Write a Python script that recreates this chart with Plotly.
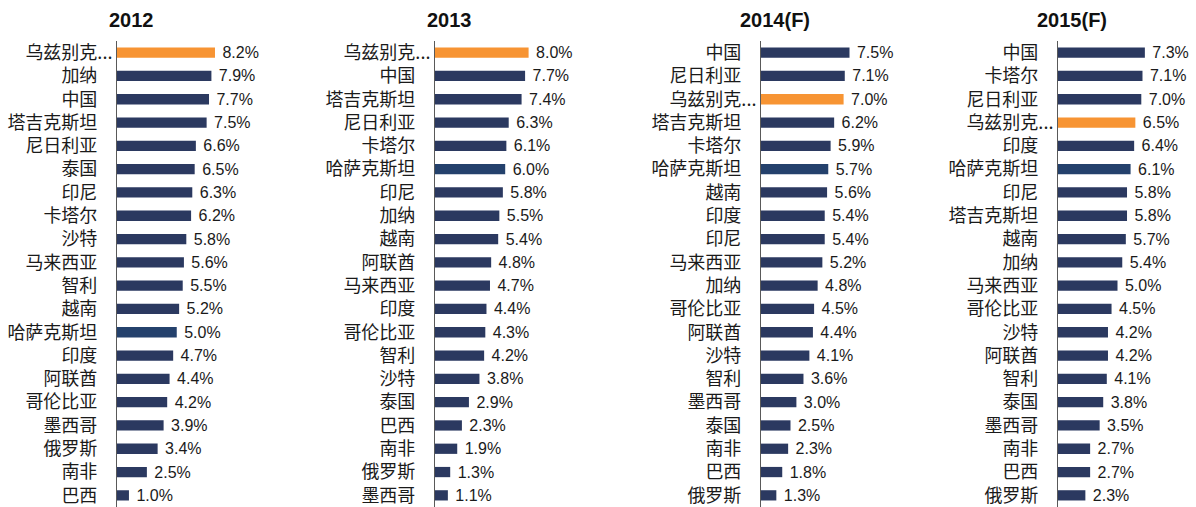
import plotly.graph_objects as go

# ---------------- data ----------------
years = ["2012", "2013", "2014(F)", "2015(F)"]

cats_2012 = ["乌兹别克...", "加纳", "中国", "塔吉克斯坦", "尼日利亚", "泰国", "印尼", "卡塔尔", "沙特", "马来西亚",
             "智利", "越南", "哈萨克斯坦", "印度", "阿联酋", "哥伦比亚", "墨西哥", "俄罗斯", "南非", "巴西"]
vals_2012 = [8.2, 7.9, 7.7, 7.5, 6.6, 6.5, 6.3, 6.2, 5.8, 5.6, 5.5, 5.2, 5.0, 4.7, 4.4, 4.2, 3.9, 3.4, 2.5, 1.0]

cats_2013 = ["乌兹别克...", "中国", "塔吉克斯坦", "尼日利亚", "卡塔尔", "哈萨克斯坦", "印尼", "加纳", "越南", "阿联酋",
             "马来西亚", "印度", "哥伦比亚", "智利", "沙特", "泰国", "巴西", "南非", "俄罗斯", "墨西哥"]
vals_2013 = [8.0, 7.7, 7.4, 6.3, 6.1, 6.0, 5.8, 5.5, 5.4, 4.8, 4.7, 4.4, 4.3, 4.2, 3.8, 2.9, 2.3, 1.9, 1.3, 1.1]

cats_2014 = ["中国", "尼日利亚", "乌兹别克...", "塔吉克斯坦", "卡塔尔", "哈萨克斯坦", "越南", "印度", "印尼", "马来西亚",
             "加纳", "哥伦比亚", "阿联酋", "沙特", "智利", "墨西哥", "泰国", "南非", "巴西", "俄罗斯"]
vals_2014 = [7.5, 7.1, 7.0, 6.2, 5.9, 5.7, 5.6, 5.4, 5.4, 5.2, 4.8, 4.5, 4.4, 4.1, 3.6, 3.0, 2.5, 2.3, 1.8, 1.3]

cats_2015 = ["中国", "卡塔尔", "尼日利亚", "乌兹别克...", "印度", "哈萨克斯坦", "印尼", "塔吉克斯坦", "越南", "加纳",
             "马来西亚", "哥伦比亚", "沙特", "阿联酋", "智利", "泰国", "墨西哥", "南非", "巴西", "俄罗斯"]
vals_2015 = [7.3, 7.1, 7.0, 6.5, 6.4, 6.1, 5.8, 5.8, 5.7, 5.4, 5.0, 4.5, 4.2, 4.2, 4.1, 3.8, 3.5, 2.7, 2.7, 2.3]

highlight = "乌兹别克..."
second = "哈萨克斯坦"

# ---------------- style ----------------
W, H = 1196, 507
C_ORANGE = "#F79433"
C_NAVY = "#2B3960"
C_KAZ = "#24416C"
AXIS_PX = [117, 435, 761, 1058]      # left edge (value 0) of each panel, px
PX_PER_UNIT = [11.95, 11.7, 11.8, 11.9]
XMAX = 10.0
CJK = "Noto Sans CJK SC"
LATIN = "Liberation Sans, Arial"

panels = [(cats_2012, vals_2012), (cats_2013, vals_2013), (cats_2014, vals_2014), (cats_2015, vals_2015)]

fig = go.Figure()
layout = dict(
    width=W, height=H,
    margin=dict(l=0, r=0, t=41, b=0, pad=0),
    paper_bgcolor="white", plot_bgcolor="white",
    showlegend=False,
    annotations=[],
)

pad_span = '<span style="color:#ffffff">...</span>'

for i, (cats, vals) in enumerate(panels):
    n = "" if i == 0 else str(i + 1)
    colors = [C_ORANGE if c == highlight else (C_KAZ if c == second else C_NAVY) for c in cats]
    fig.add_trace(go.Bar(
        x=vals, y=cats, orientation="h",
        marker=dict(color=colors, line=dict(width=0)),
        text=vals, texttemplate="\u00a0%{x:.1f}%", textposition="outside",
        textfont=dict(family=LATIN, size=16, color="#1a1a1a"),
        constraintext="none", cliponaxis=False,
        xaxis="x" + n, yaxis="y" + n, hoverinfo="skip",
    ))
    x0 = AXIS_PX[i] / W
    x1 = (AXIS_PX[i] + XMAX * PX_PER_UNIT[i]) / W
    ticktext = [c if c == highlight else c + pad_span for c in cats]
    layout["xaxis" + n] = dict(domain=[x0, x1], range=[0, XMAX], visible=False,
                               anchor="y" + n, fixedrange=True)
    layout["yaxis" + n] = dict(domain=[0, 1], anchor="x" + n,
                               categoryorder="array", categoryarray=cats,
                               autorange="reversed",
                               tickmode="array", tickvals=cats, ticktext=ticktext,
                               showline=True, linecolor="#595959", linewidth=1,
                               ticks="", showgrid=False, zeroline=False,
                               fixedrange=True,
                               tickfont=dict(family=CJK, size=18, color="#1a1a1a"))
    layout["annotations"].append(dict(
        text="<b>%s</b>" % years[i], x=(AXIS_PX[i] + 14) / W,
        y=1 + (41 - 20) / (H - 41),
        xref="paper", yref="paper", yanchor="middle", xanchor="center",
        showarrow=False,
        font=dict(family=LATIN, size=20, color="#111111"),
    ))

fig.update_layout(bargap=0.56, **layout)
fig.write_html("out.html", config={"displayModeBar": False},
               post_script="document.body.style.margin='0px';document.body.style.overflow='hidden';")
